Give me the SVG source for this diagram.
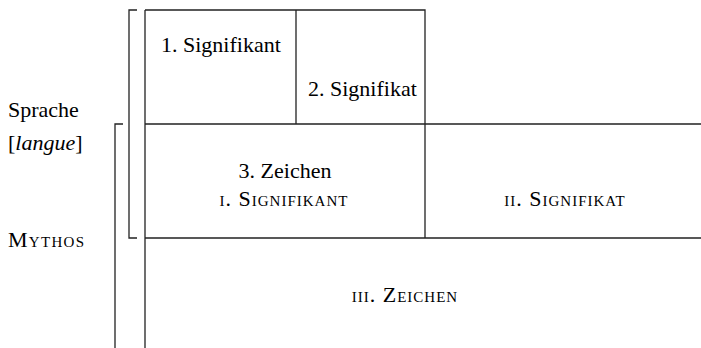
<svg xmlns="http://www.w3.org/2000/svg" width="701" height="348" viewBox="0 0 701 348">
<rect width="701" height="348" fill="#fff"/>
<g id="grid" stroke="#222" stroke-width="1.3" fill="none">
<path d="M145 10H425V238M145 10V348M296 10V124M145 124H701M145 238H701"/>
</g>
<g id="connectors" stroke="#222" stroke-width="1.3" fill="none">
<path d="M137 10H129V238H137"/>
<path d="M123 124H115V348"/>
</g>
<g id="sprache"><text font-family="Liberation Serif" font-size="22" x="8" y="117">Sprache</text><text font-family="Liberation Serif" font-size="22" x="8" y="150">[<tspan font-style="italic">langue</tspan>]</text></g>
<g id="mythos"><text font-family="Liberation Serif" font-size="22" x="8" y="247" font-variant="small-caps" letter-spacing="1.3">Mythos</text></g>
<g id="signifikant1"><text font-family="Liberation Serif" font-size="22" x="161" y="52">1. Signifikant</text></g>
<g id="signifikat2"><text font-family="Liberation Serif" font-size="22" x="308" y="96">2. Signifikat</text></g>
<g id="zeichen3"><text font-family="Liberation Serif" font-size="22" x="285" y="178" text-anchor="middle">3. Zeichen</text><text font-family="Liberation Serif" font-size="22" x="284" y="206" text-anchor="middle" font-variant="small-caps" letter-spacing="1">i. Signifikant</text></g>
<g id="signifikatII"><text font-family="Liberation Serif" font-size="22" x="565" y="206" text-anchor="middle" font-variant="small-caps" letter-spacing="1">ii. Signifikat</text></g>
<g id="zeichenIII"><text font-family="Liberation Serif" font-size="22" x="405" y="302" text-anchor="middle" font-variant="small-caps" letter-spacing="1">iii. Zeichen</text></g>
</svg>
